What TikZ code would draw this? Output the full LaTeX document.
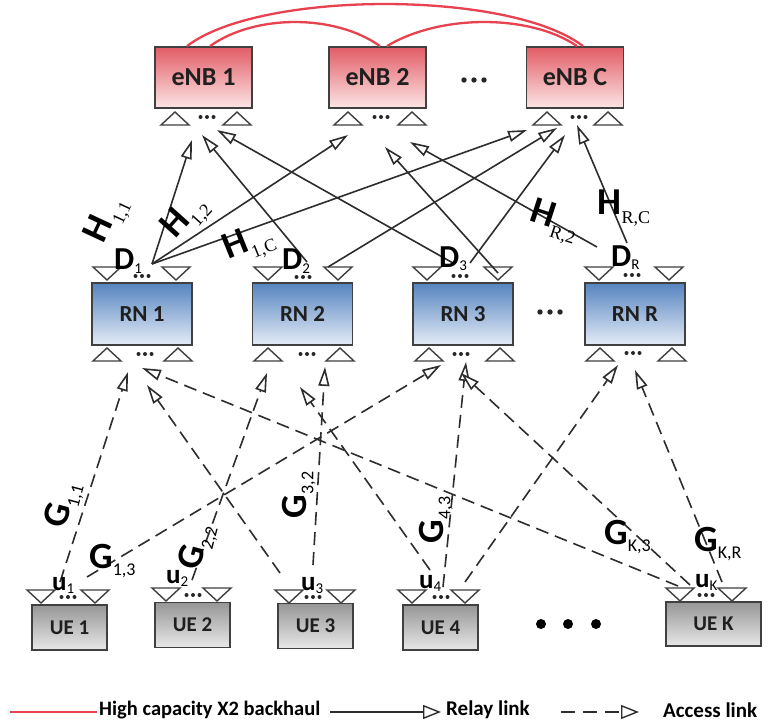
\documentclass[tikz,border=0pt]{standalone}
\usepackage{fontspec}
\setmainfont{Carlito}
\newfontfamily\subserif{Liberation Serif}
\usetikzlibrary{arrows.meta}

\definecolor{enbtop}{RGB}{226,92,102}
\definecolor{enbbot}{RGB}{252,230,230}
\definecolor{rntop}{RGB}{86,132,192}
\definecolor{rnbot}{RGB}{228,236,246}
\definecolor{uetop}{RGB}{150,150,150}
\definecolor{uebot}{RGB}{232,232,232}
\definecolor{edge}{RGB}{64,64,64}
\definecolor{linkc}{RGB}{45,45,45}
\definecolor{x2red}{RGB}{232,66,80}

% antenna symbols: triangle pointing up (apex at #1,#2) / down (base at #1,#2)
\newcommand\antup[2]{\path[ant] ({#1-14},{#2+13}) -- ({#1+14},{#2+13}) -- (#1,#2) -- cycle;}
\newcommand\antdn[2]{\path[ant] ({#1-14},#2) -- ({#1+14},#2) -- (#1,{#2+13}) -- cycle;}
\newcommand\adots[2]{\fill[black!85] ({#1-6.5},#2) circle (2) (#1,#2) circle (2) ({#1+6.5},#2) circle (2);}
% channel labels
\newcommand\Hl[1]{\fontsize{38}{38}\selectfont\bfseries H\kern0.5pt\raisebox{-9pt}{\fontsize{18}{18}\selectfont\mdseries\subserif #1}}
\newcommand\Gl[1]{\fontsize{37}{37}\selectfont\bfseries G\raisebox{-7pt}{\fontsize{18}{18}\selectfont\mdseries #1}}
\newcommand\Dl[1]{\fontsize{32}{32}\selectfont\bfseries D\raisebox{-3pt}{\fontsize{15}{15}\selectfont\mdseries #1}}
\newcommand\ul[1]{\fontsize{27}{27}\selectfont\bfseries u\raisebox{-3pt}{\fontsize{15}{15}\selectfont\mdseries #1}}

\tikzset{
  box/.style={draw=edge, line width=1.8pt, inner sep=0pt, text=black!88},
  enb/.style={box, top color=enbtop, bottom color=enbbot, minimum width=97pt, minimum height=61pt, font=\fontsize{26}{26}\selectfont\bfseries},
  rn/.style={box, top color=rntop, bottom color=rnbot, minimum width=100pt, minimum height=62pt, font=\fontsize{23}{23}\selectfont\bfseries},
  ue/.style={box, top color=uetop, bottom color=uebot, minimum width=75pt, minimum height=45pt, font=\fontsize{21}{21}\selectfont\bfseries},
  ant/.style={draw=edge, line width=1.4pt, fill=white, line join=miter},
  relay/.style={draw=linkc, line width=1.6pt, -{Triangle[length=19pt,width=11pt,fill=white]}},
  access/.style={relay, dash pattern=on 13pt off 7pt},
  x2/.style={draw=x2red, line width=2.3pt},
  lab/.style={inner sep=0pt, text=black},
  legtext/.style={inner sep=0pt, anchor=west, font=\fontsize{21}{21}\selectfont\bfseries}
}

\begin{document}
\begin{tikzpicture}[x=1pt,y=-1pt]
\fill[white] (0,0) rectangle (768,727);
\useasboundingbox (0,0) rectangle (768,727);

% ---------- base stations ----------
\node[enb] (enb1) at (203.5,77.5) {eNB 1};
\node[enb] (enb2) at (377.5,77.5) {eNB 2};
\node[enb] (enbc) at (575,77.5) {eNB C};
\fill[black!85] (464,80) circle (2.7) (474,80) circle (2.7) (484,80) circle (2.7);
\antup{175}{112}\antup{237}{112}\adots{207}{117}
\antup{348}{112}\antup{412}{112}\adots{381}{117}
\antup{547}{112}\antup{608}{112}\adots{579}{117}

% X2 backhaul
\draw[x2] ([xshift=-16.5pt]enb1.north) .. controls (260,-10) and (510,-10) .. ([xshift=8pt]enbc.north);
\draw[x2] ([xshift=6.5pt]enb1.north) .. controls (255,14) and (335,14) .. ([xshift=2.5pt]enb2.north);
\draw[x2] ([xshift=9.5pt]enb2.north) .. controls (440,14) and (530,14) .. ([xshift=2pt]enbc.north);

% ---------- relay nodes ----------
\node[rn] (rn1) at (142,314) {RN 1};
\node[rn] (rn2) at (302.5,314) {RN 2};
\node[rn] (rn3) at (463,314) {RN 3};
\node[rn] (rnr) at (635,314) {RN R};
\fill[black!85] (540,312) circle (2.7) (550,312) circle (2.7) (560,312) circle (2.7);
\antdn{107}{267}\antdn{176}{267}\adots{142}{276}
\antdn{268}{267}\antdn{338}{267}\adots{303}{277}
\antdn{427}{267}\antdn{498}{267}\adots{460}{276}
\antdn{599}{267}\antdn{669}{267}\adots{632}{275}
\antup{107}{348}\antup{178}{348}\adots{145}{354}
\antup{268}{348}\antup{340}{348}\adots{307}{354}
\antup{429}{348}\antup{500}{348}\adots{461}{354}
\antup{600}{348}\antup{672}{348}\adots{633}{353}

% ---------- user equipment ----------
\node[ue] (ue1) at (69.5,627.5) {UE 1};
\node[ue] (ue2) at (192.5,625) {UE 2};
\node[ue] (ue3) at (315.5,626) {UE 3};
\node[ue] (ue4) at (440.5,627.5) {UE 4};
\node[ue, minimum width=95pt, minimum height=44pt] (uek) at (713.5,624) {UE K};
\fill[black] (541,624) circle (5) (568,624) circle (5) (596,624) circle (5);
\antdn{41}{590}\antdn{95}{590}\adots{68}{597}
\antdn{166}{588}\antdn{217}{588}\adots{193}{595}
\antdn{289}{590}\antdn{341}{590}\adots{313}{597}
\antdn{412}{590}\antdn{465}{590}\adots{441}{597}
\antdn{680}{588}\antdn{732}{588}\adots{706}{595}

% ---------- relay link end points ----------
\coordinate (t11) at (192,140); \coordinate (t21) at (202,135); \coordinate (t31) at (217,130);
\coordinate (t12) at (348,135); \coordinate (t32) at (385,147); \coordinate (tR2) at (410,142);
\coordinate (t1C) at (527,130); \coordinate (t2C) at (557,128); \coordinate (t3C) at (565,135);
\coordinate (tRC) at (577,125);
\coordinate (d1) at (152,264);
\coordinate (d2a) at (307,262); \coordinate (d2b) at (328,267);
\coordinate (d3a) at (453,263); \coordinate (d3b) at (470,263); \coordinate (d3c) at (498,273);
\coordinate (dRa) at (597,247); \coordinate (dRb) at (627,243);

\draw[relay] (d1) -- (t11);
\draw[relay] (d1) -- (t12);
\draw[relay] (d1) -- (t1C);
\draw[relay] (d2a) -- (t21);
\draw[relay] (d2b) -- (t2C);
\draw[relay] (d3a) -- (t31);
\draw[relay] (d3b) -- (t3C);
\draw[relay] (d3c) -- (t32);
\draw[relay] (dRa) -- (tR2);
\draw[relay] (dRb) -- (tRC);

% ---------- access link end points ----------
\coordinate (u1a) at (60,582);  \coordinate (u1b) at (87,577);
\coordinate (u2a) at (192,580);
\coordinate (u3a) at (280,573); \coordinate (u3b) at (313,565);
\coordinate (u4a) at (430,570); \coordinate (u4b) at (443,587); \coordinate (u4c) at (465,582);
\coordinate (uKa) at (678,586); \coordinate (uKb) at (690,585); \coordinate (uKc) at (722,582);
\coordinate (r1a) at (128,372); \coordinate (r1b) at (147,385); \coordinate (r1c) at (142,368);
\coordinate (r2a) at (267,373); \coordinate (r2b) at (325,367); \coordinate (r2c) at (300,387);
\coordinate (r3a) at (441,365); \coordinate (r3b) at (466,362); \coordinate (r3c) at (461,373);
\coordinate (rRa) at (618,365); \coordinate (rRb) at (635,370);

\draw[access] (u1a) -- (r1a);
\draw[access] (u1b) -- (r3a);
\draw[access] (u2a) -- (r2a);
\draw[access] (u3a) -- (r1b);
\draw[access] (u3b) -- (r2b);
\draw[access] (u4a) -- (r2c);
\draw[access] (u4b) -- (r3b);
\draw[access] (u4c) -- (rRa);
\draw[access] (uKa) -- (r1c);
\draw[access] (uKb) -- (r3c);
\draw[access] (uKc) -- (rRb);

% ---------- labels ----------
\node[lab, rotate=65] (h11) at (108,220) {\Hl{1,1}};
\node[lab, rotate=48] (h12) at (186,218) {\Hl{1,2}};
\node[lab, rotate=22] (h1c) at (249,244) {\Hl{1,C}};
\node[lab, rotate=-18] (hr2) at (554,222) {\Hl{R,2}};
\node[lab, anchor=base west] (hrc) at (597,215) {\Hl{R,C}};

\node[lab, anchor=base west] (dl1) at (114,270) {\Dl{1}};
\node[lab, anchor=base west] (dl2) at (282,270) {\Dl{2}};
\node[lab, anchor=base west] (dl3) at (439,268) {\Dl{3}};
\node[lab, anchor=base west] (dlr) at (611,267) {\Dl{R}};

\node[lab, rotate=75] (g11) at (64,505) {\Gl{1,1}};
\node[lab, anchor=base west] (g13) at (89,568) {\Gl{1,3}};
\node[lab, rotate=75] (g22) at (198,547) {\Gl{2,2}};
\node[lab, rotate=90] (g32) at (299,495) {\Gl{3,2}};
\node[lab, rotate=90] (g43) at (436,520) {\Gl{4,3}};
\node[lab, anchor=base west] (gk3) at (604,544) {\Gl{K,3}};
\node[lab, anchor=base west] (gkr) at (694,551) {\Gl{K,R}};

\node[lab, anchor=base west] (ul1) at (52,590) {\ul{1}};
\node[lab, anchor=base west] (ul2) at (166,583) {\ul{2}};
\node[lab, anchor=base west] (ul3) at (301,590) {\ul{3}};
\node[lab, anchor=base west] (ul4) at (419,588) {\ul{4}};
\node[lab, anchor=base west] (ulk) at (695,587) {\ul{K}};

% ---------- legend ----------
\coordinate (lx1) at (10,712);  \coordinate (lx2) at (97,712);
\coordinate (lr1) at (330,712); \coordinate (lr2) at (441,712);
\coordinate (la1) at (561,712); \coordinate (la2) at (639,712);
\draw[x2, line width=2.6pt] (lx1) -- (lx2);
\node[legtext, font=\fontsize{20.5}{20.5}\selectfont\bfseries] (lt1) at (99,710) {High capacity X2 backhaul};
\draw[draw=linkc, line width=1.4pt, -{Triangle[length=18pt,width=14pt,fill=white]}] (lr1) -- (lr2);
\node[legtext] (lt2) at (446,710) {Relay link};
\draw[draw=linkc, line width=1.4pt, dash pattern=on 14pt off 8pt, -{Triangle[length=18pt,width=14pt,fill=white]}] (la1) -- (la2);
\node[legtext] (lt3) at (663,710) {Access link};
\end{tikzpicture}
\end{document}
